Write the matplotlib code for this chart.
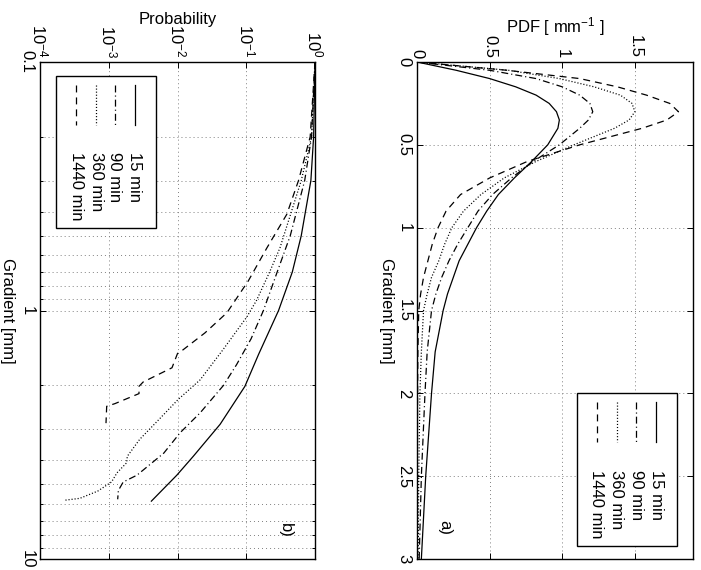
import matplotlib
matplotlib.use('Agg')
import matplotlib.pyplot as plt
from matplotlib import ticker
from matplotlib.patches import Rectangle
import numpy as np

plt.rcParams['font.family'] = ['Liberation Sans', 'DejaVu Sans']
plt.rcParams['font.size'] = 12
plt.rcParams['mathtext.fontset'] = 'custom'
plt.rcParams['mathtext.rm'] = 'Liberation Sans'
plt.rcParams['mathtext.it'] = 'Liberation Sans:italic'
plt.rcParams['mathtext.bf'] = 'Liberation Sans:bold'
plt.rcParams['lines.scale_dashes'] = False

labels = ['15 min', '90 min', '360 min', '1440 min']

# panel a) PDF of gradient
grad_a = [0, 0.05, 0.1, 0.15, 0.2, 0.25, 0.3, 0.35, 0.4, 0.5, 0.6, 0.7, 0.8, 0.9,
          1.0, 1.1, 1.2, 1.3, 1.4, 1.5, 1.75, 2.0, 2.5, 3.0]
pdf_15 = [0, 0.27, 0.5, 0.68, 0.82, 0.91, 0.96, 0.98, 0.97, 0.9, 0.79, 0.67, 0.56, 0.48,
          0.41, 0.35, 0.29, 0.25, 0.21, 0.18, 0.125, 0.10, 0.06, 0.03]
pdf_90 = [0, 0.5, 0.82, 1.0, 1.12, 1.19, 1.21, 1.18, 1.12, 0.98, 0.8, 0.65, 0.52, 0.42,
          0.35, 0.28, 0.22, 0.17, 0.13, 0.10, 0.07, 0.055, 0.03, 0.015]
pdf_360 = [0, 0.63, 0.98, 1.22, 1.4, 1.48, 1.5, 1.46, 1.36, 1.08, 0.82, 0.6, 0.44, 0.32,
           0.24, 0.19, 0.15, 0.10, 0.07, 0.045, 0.03, 0.02, 0.012, 0.008]
pdf_1440 = [0, 0.62, 1.12, 1.38, 1.58, 1.74, 1.8, 1.72, 1.55, 1.12, 0.76, 0.5, 0.3, 0.2,
            0.145, 0.105, 0.075, 0.045, 0.025, 0.012, 0.006, 0.004, 0.002, 0.001]

# panel b) exceedance probability (log10 values read off the plot)
grad_b_15 = [0.1, 0.2, 0.3, 0.5, 0.7, 1.0, 1.5, 2.02, 2.87, 3.86, 4.6, 5.85]
logp_15 = [0, -0.02, -0.06, -0.2, -0.33, -0.53, -0.82, -1.02, -1.38, -1.77, -2.01, -2.38]
grad_b_90 = [0.1, 0.2, 0.3, 0.5, 0.7, 1.0, 1.3, 1.65, 2.0, 2.58, 3.1, 3.75, 4.6, 4.9, 5.3, 5.75]
logp_90 = [0, -0.05, -0.15, -0.36, -0.55, -0.75, -0.93, -1.14, -1.33, -1.67, -1.96, -2.2,
           -2.59, -2.79, -2.86, -2.87]
grad_b_360 = [0.1, 0.2, 0.3, 0.56, 0.7, 0.91, 1.06, 1.44, 1.9, 2.28, 2.8, 3.3, 3.86, 4.1,
              4.5, 4.9, 5.33, 5.7, 5.8]
logp_360 = [0, -0.05, -0.2, -0.51, -0.66, -0.85, -0.99, -1.34, -1.67, -1.99, -2.3, -2.55,
            -2.73, -2.74, -2.88, -2.96, -3.16, -3.42, -3.64]
grad_b_1440 = [0.1, 0.2, 0.3, 0.41, 0.56, 0.76, 0.91, 1.02, 1.23, 1.44, 1.49, 1.70, 1.94,
               2.02, 2.16, 2.37, 2.43, 2.84]
logp_1440 = [0, -0.07, -0.24, -0.41, -0.70, -0.97, -1.16, -1.28, -1.6, -1.92, -2.0, -2.08,
             -2.5, -2.56, -2.56, -2.91, -3.03, -3.04]

styles = ['-', (0, (5, 2.2, 0.8, 2.2)), (0, (0.8, 1.4)), (0, (5, 3.6))]
LW = 0.9

W, H = 701, 570


def box(x0, x1, y0, y1):
    return [x0 / W, 1 - y1 / H, (x1 - x0) / W, (y1 - y0) / H]


def style_axes(ax):
    ax.xaxis.tick_top()
    ax.tick_params(which='both', direction='in', top=True, bottom=True, left=True,
                   right=True, labeltop=True, labelbottom=False, width=0.7)
    ax.tick_params(which='major', length=4)
    ax.tick_params(which='minor', length=2.5)
    ax.tick_params(axis='x', labelrotation=-90, pad=3)
    ax.tick_params(axis='y', labelrotation=-90, pad=4)
    for t in ax.yaxis.get_major_ticks():
        t.label1.set_va('center')
    for s in ax.spines.values():
        s.set_linewidth(1.0)


def draw_legend(ax, ext, bx, by, xs, ly, ty):
    # ext: axes extent in pixels (x0, x1, y0, y1); everything else in pixels
    x0, x1, y0, y1 = ext
    fx = lambda p: (p - x0) / (x1 - x0)
    fy = lambda p: (y1 - p) / (y1 - y0)
    ax.add_patch(Rectangle((fx(bx[0]), fy(by[1])), fx(bx[1]) - fx(bx[0]),
                           fy(by[0]) - fy(by[1]), transform=ax.transAxes,
                           fc='white', ec='black', lw=1.0, zorder=5))
    for x, ls, lab in zip(xs, styles, labels):
        ax.plot([fx(x), fx(x)], [fy(ly[0]), fy(ly[1])], transform=ax.transAxes,
                color='black', ls=ls, lw=LW, zorder=6)
        ax.text(fx(x), fy(ty), lab, transform=ax.transAxes, rotation=-90,
                rotation_mode='anchor', ha='left', va='center', zorder=6)


fig = plt.figure(figsize=(7.01, 5.70), dpi=100)

grid_kw = dict(color='0.5', linestyle=(0, (0.7, 2.2)), linewidth=0.7)

# ---- panel a ----
ext_a = (417, 693, 62, 559)
ax_a = fig.add_axes(box(*ext_a))
for y, ls in zip([pdf_15, pdf_90, pdf_360, pdf_1440], styles):
    ax_a.plot(y, grad_a, color='black', ls=ls, lw=LW)
ax_a.set_xlim(0, 1.9)
ax_a.set_ylim(3, 0)
ax_a.set_xticks([0, 0.5, 1, 1.5])
ax_a.set_xticklabels(['0', '0.5', '1', '1.5'])
ax_a.set_yticks([0, 0.5, 1, 1.5, 2, 2.5, 3])
ax_a.set_yticklabels(['0', '0.5', '1', '1.5', '2', '2.5', '3'])
ax_a.grid(True, **grid_kw)
style_axes(ax_a)
ax_a.set_ylabel('Gradient [mm]', rotation=-90, va='center', ha='center')
ax_a.yaxis.set_label_coords(-0.112, 0.5)
ax_a.text(0.5, 1.0604, 'PDF [ mm$^{-1}$ ]', transform=ax_a.transAxes,
          ha='center', va='baseline')
ax_a.text(0.101, 0.064, 'a)', transform=ax_a.transAxes, rotation=-90,
          ha='center', va='center')
draw_legend(ax_a, ext_a, (577, 677), (393, 546), [656, 636, 617, 597], (402, 442), 470)

# ---- panel b ----
ext_b = (40, 315, 62, 559)
ax_b = fig.add_axes(box(*ext_b))
series_b = [(grad_b_15, logp_15), (grad_b_90, logp_90),
            (grad_b_360, logp_360), (grad_b_1440, logp_1440)]
for (g, lp), ls in zip(series_b, styles):
    ax_b.plot(10.0 ** np.array(lp), g, color='black', ls=ls, lw=LW)
ax_b.set_xscale('log')
ax_b.set_yscale('log')
ax_b.set_xlim(1e-4, 1)
ax_b.set_ylim(10, 0.1)
ax_b.set_xticks([1e-4, 1e-3, 1e-2, 1e-1, 1])
ax_b.set_xticklabels(['$10^{-4}$', '$10^{-3}$', '$10^{-2}$', '$10^{-1}$', '$10^{0}$'])
ax_b.xaxis.set_minor_locator(ticker.NullLocator())
ax_b.set_yticks([0.1, 1, 10])
ax_b.set_yticklabels(['0.1', '1', '10'])
ax_b.yaxis.set_minor_locator(ticker.LogLocator(base=10, subs=np.arange(2, 10)))
ax_b.yaxis.set_minor_formatter(ticker.NullFormatter())
ax_b.grid(True, which='major', **grid_kw)
ax_b.grid(True, which='minor', axis='y', **grid_kw)
style_axes(ax_b)
ax_b.set_ylabel('Gradient [mm]', rotation=-90, va='center', ha='center')
ax_b.yaxis.set_label_coords(-0.118, 0.5)
ax_b.text(0.5, 1.0765, 'Probability', transform=ax_b.transAxes,
          ha='center', va='baseline')
ax_b.text(0.891, 0.058, 'b)', transform=ax_b.transAxes, rotation=-90,
          ha='center', va='center')
draw_legend(ax_b, ext_b, (56, 156), (76, 228), [135, 115, 96, 76], (85, 125), 152)

fig.savefig('out.png', dpi=100)
